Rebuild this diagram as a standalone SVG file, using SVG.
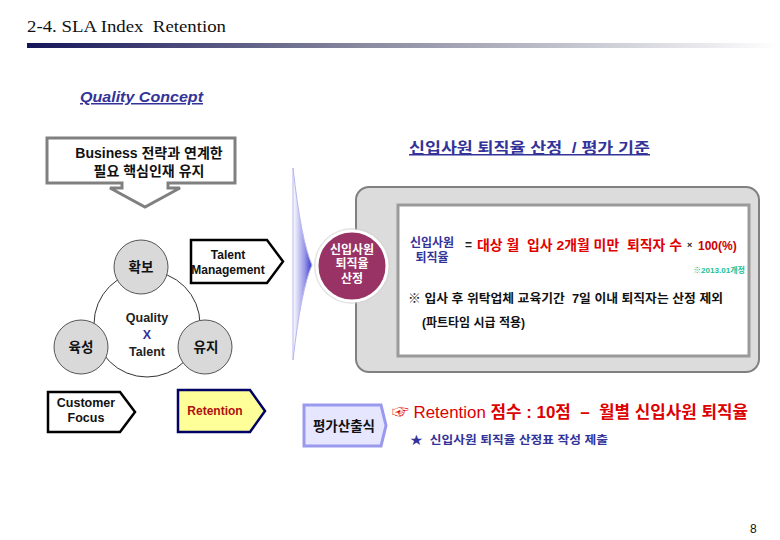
<svg xmlns="http://www.w3.org/2000/svg" width="780" height="540" viewBox="0 0 780 540">
<defs>
<linearGradient id="bar" x1="0" y1="0" x2="1" y2="0">
<stop offset="0" stop-color="#14145a"/>
<stop offset="0.45" stop-color="#8a8aa0"/>
<stop offset="1" stop-color="#ffffff"/>
</linearGradient>
<linearGradient id="lens" x1="0" y1="0" x2="1" y2="0">
<stop offset="0" stop-color="#ffffff"/>
<stop offset="0.6" stop-color="#9a9ae8"/>
<stop offset="1" stop-color="#3a3acc"/>
</linearGradient>
<style>
.k{font-family:"Liberation Sans","Noto Sans CJK KR",sans-serif;font-weight:bold}
.c{text-anchor:middle}
.gc{fill:#d9d9d9;stroke:#555;stroke-width:1}
.tag{fill:#fff;stroke:#000;stroke-width:2.5}
</style>
</defs>
<rect width="780" height="540" fill="#fff"/>

<g id="title">
<text x="27" y="32" font-family="'Liberation Serif','Noto Serif CJK KR',serif" font-size="17" textLength="199" lengthAdjust="spacingAndGlyphs" fill="#111">2-4. SLA Index&#160; Retention</text>
<rect x="27" y="43" width="753" height="5" fill="url(#bar)"/>
</g>

<g id="quality-concept">
<text x="80" y="102" class="k" font-style="italic" font-size="15" fill="#333399" text-decoration="underline" textLength="123" lengthAdjust="spacingAndGlyphs">Quality Concept</text>
</g>

<g id="business-callout">
<path d="M47,138 H235 V183 H168 V188 H180 L145,207 L110,188 H122 V183 H47 Z" fill="#fff" stroke="#808080" stroke-width="3" stroke-linejoin="miter"/>
<text x="149" y="158" class="k c" font-size="14" fill="#111">Business 전략과 연계한</text>
<text x="149" y="176" class="k c" font-size="14" fill="#111">필요 핵심인재 유지</text>
</g>

<g id="quality-talent">
<circle cx="147" cy="324" r="53" fill="#fff" stroke="#333" stroke-width="1"/>
<text x="147" y="322" class="k c" font-size="12.5" fill="#222">Quality</text>
<text x="147" y="339" class="k c" font-size="12.5" fill="#333399">X</text>
<text x="147" y="356" class="k c" font-size="12.5" fill="#222">Talent</text>
</g>

<g id="node-hwakbo">
<circle cx="141" cy="267" r="27" class="gc"/>
<text x="141" y="272" class="k c" font-size="13.5" fill="#111">확보</text>
</g>
<g id="node-yukseong">
<circle cx="81" cy="347" r="27" class="gc"/>
<text x="81" y="352" class="k c" font-size="13.5" fill="#111">육성</text>
</g>
<g id="node-yuji">
<circle cx="205" cy="347" r="27" class="gc"/>
<text x="206" y="352" class="k c" font-size="13.5" fill="#111">유지</text>
</g>

<g id="talent-management">
<path d="M191,240 H267 L283,261.5 L267,283 H191 Z" class="tag"/>
<text x="228" y="259" class="k c" font-size="12" fill="#111">Talent</text>
<text x="228" y="274" class="k c" font-size="12" fill="#111">Management</text>
</g>

<g id="customer-focus">
<path d="M48,392 H120 L135,412 L120,432 H48 Z" class="tag"/>
<text x="86" y="407" class="k c" font-size="12.5" fill="#111">Customer</text>
<text x="86" y="422" class="k c" font-size="12.5" fill="#111">Focus</text>
</g>

<g id="retention-tag">
<path d="M178,390 H250 L265,411 L250,432 H178 Z" fill="#ffff99" stroke="#000066" stroke-width="2.5"/>
<text x="215" y="415" class="k c" font-size="12" fill="#b01010">Retention</text>
</g>

<g id="connectors">
<path d="M293,168 Q301,240 312,265 Q301,290 293,360 Z" fill="url(#lens)" stroke="#b8b8ee" stroke-width="1"/>
</g>

<g id="criteria-heading">
<text x="409" y="153" class="k" font-size="15" fill="#333399" text-decoration="underline" textLength="241" lengthAdjust="spacingAndGlyphs">신입사원 퇴직율 산정&#160; / 평가 기준</text>
</g>

<g id="criteria-panel">
<rect x="356" y="187" width="403" height="185" rx="13" fill="#dcdcdc" stroke="#808080" stroke-width="2"/>
<rect x="398" y="205" width="351" height="151" fill="#fff" stroke="#9a9a9a" stroke-width="3"/>
<text x="432" y="247" class="k c" font-size="12" fill="#333399">신입사원</text>
<text x="432" y="262" class="k c" font-size="12" fill="#333399">퇴직율</text>
<text x="465" y="249" class="k" font-size="12" fill="#222">=</text>
<text x="477" y="250" class="k" font-size="13.5" fill="#e00000" textLength="205" lengthAdjust="spacingAndGlyphs">대상 월&#160; 입사 2개월 미만&#160; 퇴직자 수</text>
<text x="687" y="248" class="k" font-size="9" fill="#222">×</text>
<text x="698" y="250" class="k" font-size="12" fill="#cc0000">100(%)</text>
<text x="693" y="273" class="k" font-size="8" fill="#19c19a" textLength="52" lengthAdjust="spacingAndGlyphs">※2013.01개정</text>
<text x="408" y="303" class="k" font-size="12" fill="#111" textLength="315" lengthAdjust="spacingAndGlyphs">※ 입사 후 위탁업체 교육기간&#160; 7일 이내 퇴직자는 산정 제외</text>
<text x="422" y="327" class="k" font-size="12" fill="#111">(파트타임 시급 적용)</text>
</g>

<g id="calc-circle">
<circle cx="352" cy="266" r="38" fill="#d0d0d0" opacity="0.6"/>
<circle cx="352" cy="266" r="35" fill="#993366" stroke="#ffffff" stroke-width="3"/>
<text x="352" y="254" class="k c" font-size="12" fill="#fff">신입사원</text>
<text x="352" y="268" class="k c" font-size="12" fill="#fff">퇴직율</text>
<text x="352" y="283" class="k c" font-size="12" fill="#fff">산정</text>
</g>

<g id="formula-label">
<path d="M304,405 H381 L386,425.5 L381,446 H304 Z" fill="#e6e6ff" stroke="#9999ee" stroke-width="3"/>
<text x="344" y="431" class="k c" font-size="13.5" fill="#111">평가산출식</text>
</g>

<g id="score-text">
<text x="392" y="418" font-family="'Liberation Sans','Noto Sans CJK KR',sans-serif" font-size="16.5" fill="#dd0000" textLength="356" lengthAdjust="spacingAndGlyphs">☞ Retention <tspan font-weight="bold">점수 : 10점&#160; –&#160; 월별 신입사원 퇴직율</tspan></text>
<text x="410" y="444" class="k" font-size="11.5" fill="#333399" textLength="198" lengthAdjust="spacingAndGlyphs">★&#160; 신입사원 퇴직율 산정표 작성 제출</text>
</g>

<g id="page-number">
<text x="750" y="533" font-family="'Liberation Sans',sans-serif" font-size="12" fill="#111">8</text>
</g>
</svg>
